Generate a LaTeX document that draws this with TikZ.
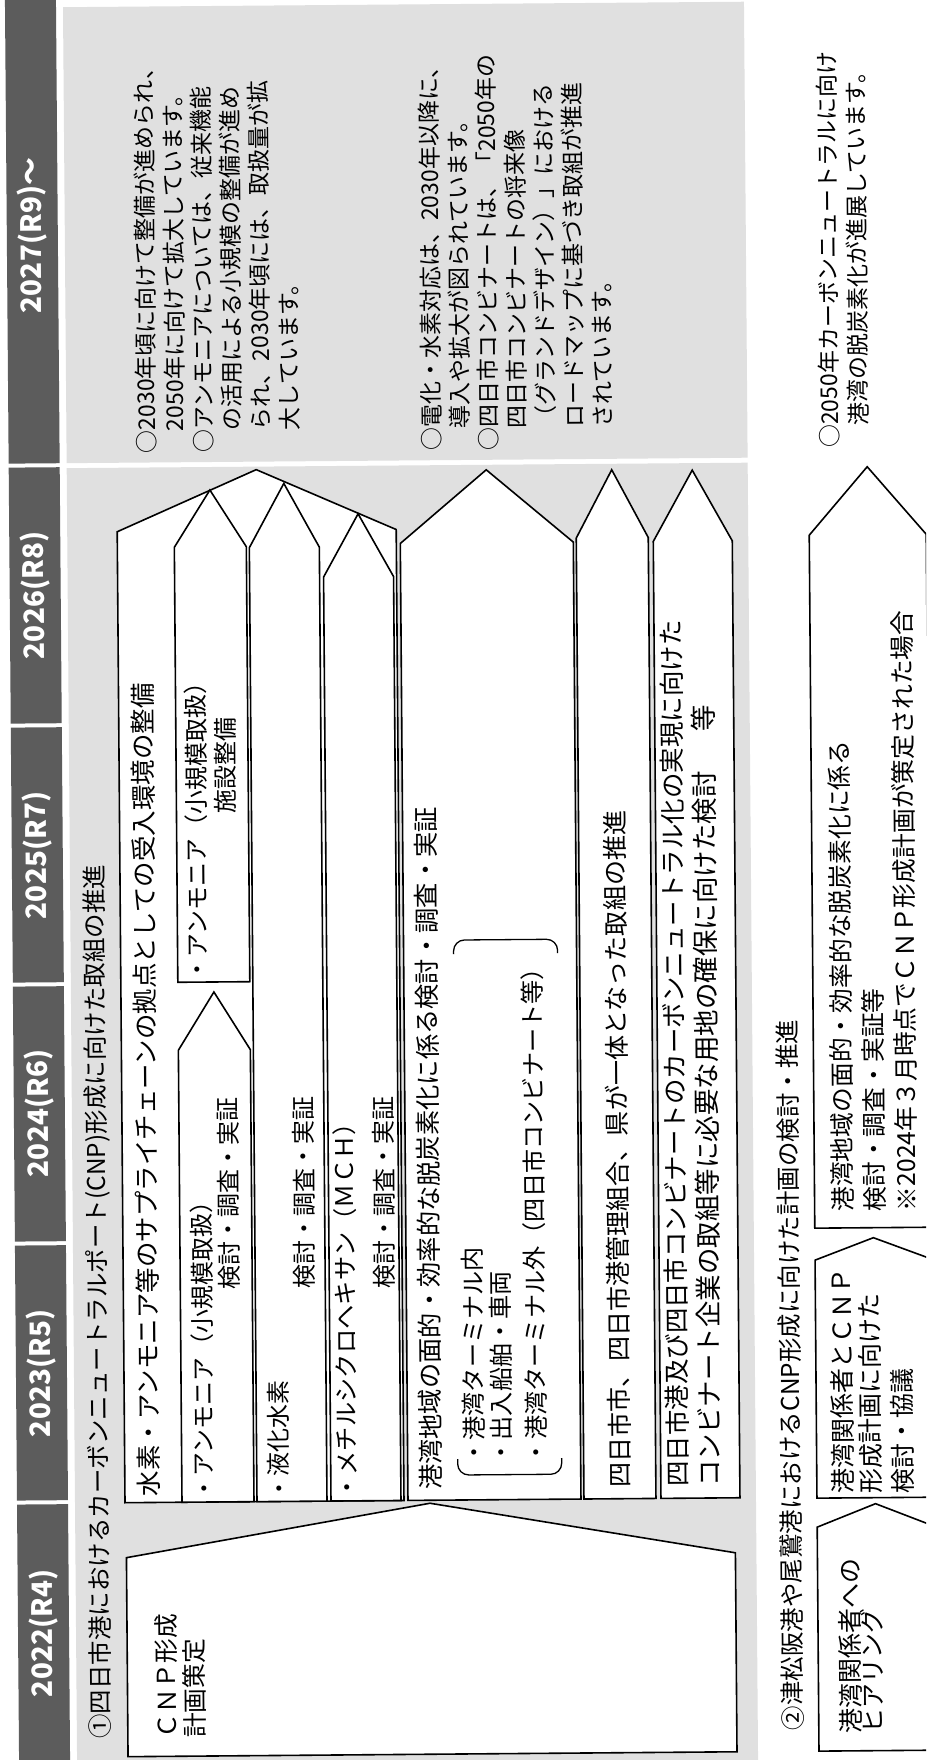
\documentclass[tikz,border=0pt]{standalone}
\usepackage{fontspec}
\setmainfont{Noto Sans CJK JP}
\definecolor{hdr}{HTML}{5C5C5C}
\definecolor{pnl}{HTML}{E0E0E0}
\tikzset{
  shp/.style={draw=black, line width=1.6pt, fill=white, line join=miter},
  brk/.style={draw=black, line width=1.3pt, rounded corners=11pt},
  tx/.style={anchor=west, inner sep=0pt, text=black, font={\fontsize{#1}{30}\selectfont}},
  tx/.default=24.5,
  yr/.style={anchor=center, inner sep=0pt, text=white, font={\fontsize{28}{30}\selectfont\bfseries}},
  nt/.style={anchor=west, inner sep=0pt, text=black, font={\fontsize{23}{28}\selectfont}},
}
\begin{document}
\begin{tikzpicture}[x=1pt,y=1pt]
\useasboundingbox (0,0) rectangle (926,1760);
\clip (0,0) rectangle (926,1760);
\fill[white] (0,0) rectangle (926,1760);
\begin{scope}[rotate around={0.46:(463,880)}]
\begin{scope}[rotate=90, y=-1pt, transform shape]
 % header cells
 \fill[hdr] (-30,12) rectangle (259,63);
 \fill[hdr] (263,12) rectangle (518,63);
 \fill[hdr] (522,12) rectangle (777,63);
 \fill[hdr] (781,12) rectangle (1036,63);
 \fill[hdr] (1040,12) rectangle (1296,63);
 \fill[hdr] (1300,12) rectangle (1790,63);
 \node[yr] (y22) at (130,37.5) {2022(R4)};
 \node[yr] (y23) at (390,37.5) {2023(R5)};
 \node[yr] (y24) at (650,37.5) {2024(R6)};
 \node[yr] (y25) at (908,37.5) {2025(R7)};
 \node[yr] (y26) at (1168,37.5) {2026(R8)};
 \node[yr] (y27) at (1528,37.5) {2027(R9)～};
 % panels
 \fill[pnl] (-30,70) rectangle (1295,751);
 \fill[pnl] (1300,70) rectangle (1756,751);
 % titles
 \node[tx] (t1) at (24,95) {①四日市港におけるカーボンニュートラルポート(CNP)形成に向けた取組の推進};
 \node[tx] (t2) at (27,786) {②津松阪港や尾鷲港におけるCNP形成に向けた計画の検討・推進};
 % CNP box
 \draw[shp] (6,121) -- (205,121) -- (257,425) -- (205,730) -- (6,730) -- cycle;
 \node[tx=24.8] (c1) at (24,160) {ＣＮＰ形成};
 \node[tx=24.8] (c2) at (24,188) {計画策定};
 % A outer
 \draw[shp] (260,120) -- (1231,120) -- (1292,259.5) -- (1231,399) -- (260,399) -- cycle;
 \node[tx=25.5] (a0) at (266,144) {水素・アンモニア等のサプライチェーンの拠点としての受入環境の整備};
 % B
 \draw[shp] (260,177) -- (712,177) -- (770,213) -- (712,249) -- (260,249) -- cycle;
 \node[tx=24] (b1) at (261,199) {・アンモニア（小規模取扱）};
 \node[tx=24] (b2) at (472,226) {検討・調査・実証};
 % B2
 \draw[shp] (780,177) -- (1215,177) -- (1272,213) -- (1215,249) -- (780,249) -- cycle;
 \node[tx=24] (b3) at (780,197) {・アンモニア（小規模取扱）};
 \node[tx=24] (b4) at (948,226) {施設整備};
 % C
 \draw[shp] (260,252) -- (1214,252) -- (1278,287) -- (1214,322) -- (260,322) -- cycle;
 \node[tx=24] (c3) at (261,274) {・液化水素};
 \node[tx=24] (c4) at (472,301.5) {検討・調査・実証};
 % D
 \draw[shp] (260,326) -- (1184,326) -- (1247,361) -- (1184,396) -- (260,396) -- cycle;
 \node[tx=24.3] (d1) at (261,342) {・メチルシクロヘキサン（ＭＣＨ）};
 \node[tx=24] (d2) at (472,381.5) {検討・調査・実証};
 % E
 \draw[shp] (260,403) -- (1217,403) -- (1290,489.5) -- (1217,576) -- (260,576) -- cycle;
 \node[tx=25.3] (e1) at (270,426) {港湾地域の面的・効率的な脱炭素化に係る検討・調査・実証};
 \node[tx=24.2] (e2) at (295,469.5) {・港湾ターミナル内};
 \node[tx=24.2] (e3) at (295,497) {・出入船舶・車両};
 \node[tx=24.2] (e4) at (295,531.5) {・港湾ターミナル外（四日市コンビナート等）};
 \draw[brk] (301,453) -- (285,453) -- (285,557) -- (301,557);
 \draw[brk] (806,453) -- (820,453) -- (820,557) -- (806,557);
 % F
 \draw[shp] (260,579) -- (1221,579) -- (1289,615) -- (1221,651) -- (260,651) -- cycle;
 \node[tx=25.1] (f1) at (271,615) {四日市市、四日市港管理組合、県が一体となった取組の推進};
 % G
 \draw[shp] (260,656) -- (1217,656) -- (1288,695.5) -- (1217,735) -- (260,735) -- cycle;
 \node[tx=25.5] (g1) at (271,673) {四日市港及び四日市コンビナートのカーボンニュートラル化の実現に向けた};
 \node[tx=26.5] (g2) at (271,705) {コンビナート企業の取組等に必要な用地の確保に向けた検討\hspace{1.5em}等};
 % Section 2
 \draw[shp] (6,812) -- (230,812) -- (253,870.5) -- (230,929) -- (6,929) -- cycle;
 \node[tx=25] (s1) at (23,844) {港湾関係者への};
 \node[tx=25] (s2) at (23,866) {ヒアリング};
 \draw[shp] (259,812) -- (497,812) -- (519,870.5) -- (497,929) -- (259,929) -- cycle;
 \node[tx=25] (s3) at (263,838) {港湾関係者とＣＮＰ};
 \node[tx=25] (s4) at (263,866) {形成計画に向けた};
 \node[tx=25] (s5) at (263,898) {検討・協議};
 \draw[shp] (529,812) -- (1222,812) -- (1290,870.5) -- (1222,929) -- (529,929) -- cycle;
 \node[tx=24.8] (s6) at (545,840) {港湾地域の面的・効率的な脱炭素化に係る};
 \node[tx=24.8] (s7) at (545,872) {検討・調査・実証等};
 \node[tx=24.8] (s8) at (545,904) {※2024年３月時点でＣＮＰ形成計画が策定された場合};
 % 2027 notes
 \node[nt] (n1) at (1309,150) {○2030年頃に向けて整備が進められ、};
 \node[nt] (n2) at (1331,178.6) {2050年に向けて拡大しています。};
 \node[nt] (n3) at (1309,207.2) {○アンモニアについては、従来機能};
 \node[nt] (n4) at (1331,235.8) {の活用による小規模の整備が進め};
 \node[nt] (n5) at (1331,264.4) {られ、2030年頃には、取扱量が拡};
 \node[nt] (n6) at (1331,293) {大しています。};
 \node[nt] (n7) at (1309,435) {○電化・水素対応は、2030年以降に、};
 \node[nt] (n8) at (1331,463.6) {導入や拡大が図られています。};
 \node[nt] (n9) at (1309,492.2) {○四日市コンビナートは、「2050年の};
 \node[nt] (n10) at (1331,520.8) {四日市コンビナートの将来像};
 \node[nt] (n11) at (1331,549.4) {（グランドデザイン）」における};
 \node[nt] (n12) at (1331,578) {ロードマップに基づき取組が推進};
 \node[nt] (n13) at (1331,606.6) {されています。};
 \node[nt] (n14) at (1309,833) {○2050年カーボンニュートラルに向け};
 \node[nt] (n15) at (1331,862) {港湾の脱炭素化が進展しています。};
\end{scope}
\end{scope}
\end{tikzpicture}
\end{document}
